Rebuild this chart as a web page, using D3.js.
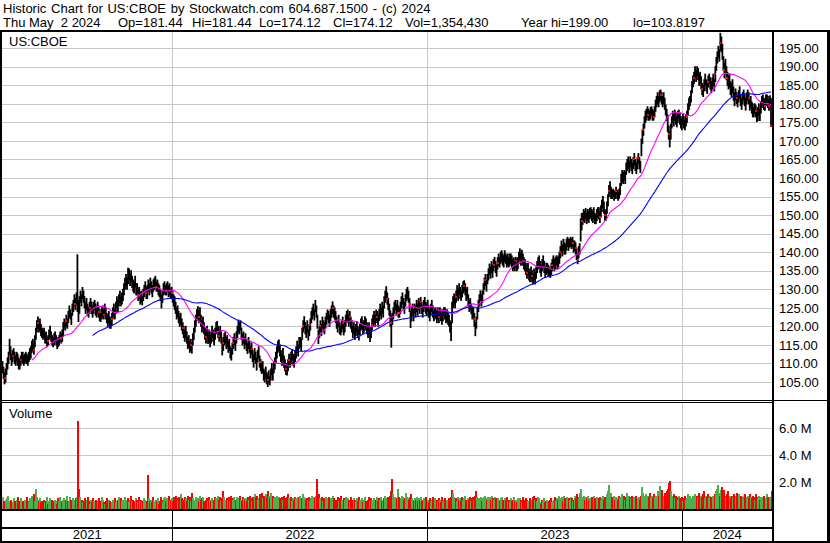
<!DOCTYPE html>
<html><head><meta charset="utf-8">
<script src="https://cdn.jsdelivr.net/npm/d3@7"></script>
<style>body{margin:0;background:#fff}svg{display:block}text{font-family:"Liberation Sans",Arial,sans-serif;fill:#000}</style>
</head><body><svg id="c" width="830" height="543"></svg>
<script>
// ---- data (daily bars, May 2021 .. May 2 2024) ----
const closes = [
109,107.5,106,107,108.5,110,111,114.5,112.5,111,
112,113,111.5,110.5,112,111,110,109.8,111,112,
111.5,110.5,111,112,111,110.5,111.5,112.5,113,114.5,
115,113.5,116,118,120,121,119.5,120.5,119,118,
117.5,118,116.5,117,115.5,116,117.5,118.5,117,116,
115.5,116.5,117,116,115,115.5,116,117,116.5,117.5,
119.5,121,120,121.5,120.5,122.5,124,123,122,124.5,
125.5,127,126,127.5,127,124,126.5,128,127,129,
128,126.5,125,126,124.5,123.5,125,126,125,124,
125,126,124.5,123.5,125,124,123,122,123.5,124,
123,124.5,123.5,122,121.5,122.5,121,120.5,122,123.5,
124.5,123,125,126.5,125.5,127,128,126.5,127.5,128.5,
130,131.5,132.5,131,133,134.5,132.5,133.5,132,131,
130.5,132,129.5,130,128.5,129,127.5,128,126.5,128.5,
129.5,130.5,129,128.5,131,130,131.5,130.5,129.5,131,
131.5,132,130.5,131,130,129.5,128.5,126.5,128,130,
130.5,129.5,130,131,129.5,130,128.5,129,128,127,
126,125,123.5,124,122.5,121.5,122,120.5,119.5,118.5,
117.5,118.5,117,115.5,116,114.5,115,114,116.5,118,
120,121.5,123,124,122.5,123.5,121.5,120,121,119.5,
118,117,118.5,116.5,117.5,116,117,118.5,117.5,116.5,
118,119.5,120,118.5,117.5,118.5,117,114,115.5,116.5,
117,115.5,116,114.5,115,113,112.5,114,115.5,116.5,
115,117,118.5,120,119.5,120.5,118,116.5,117,115.5,
116.5,115,114,115.5,114.5,113,114,112,111,112.5,
111.5,110,112,113,110.5,109.5,108.5,109,107,106.5,
107.5,106,105.5,106.5,105,107,108.5,107,109,110,
111.5,113,114.5,115,113.5,112,111,112.5,110.5,109.5,
108.5,108,109.5,111,110,111.5,112.5,111,110.5,112,
113,114.5,113.5,115.5,116,115,118,120,121,119.5,
118.5,120,117.5,119,120.5,122.5,123.5,124.5,123,125.5,
124,121.5,117,118.5,120,119,121,120,119.5,121,
122,123.5,122.5,121.5,123,124,125,124,123.5,122.5,
121,120,121.5,119.5,118.5,120,121,119,120,121.5,
122.5,123,121.5,122.5,121,120,118.5,119.5,118,119,
120,118.5,117.5,119,120.5,121,119.5,120,121.5,120.5,
119.5,118.5,119.5,117.5,118.5,120.5,121.5,122.5,121.5,123,
122.5,121.5,123,124.5,123.5,125,124,126.5,128,129,
127.5,126,124.5,122.5,121,122,123.5,125,126,124.5,
125.5,124,123.5,125,126.5,127.5,126,125,127,128.5,
129,128,126,122,123.5,124.5,123,125,124,125.5,
124.5,126,125,126.5,125,124,125.5,126.5,125,124.5,
125.5,124,123,124.5,125.5,124,122.5,123.5,124,122.5,
123.5,122.5,124,123,122,123,124.5,123.5,122.5,123,
122,121.5,120,118.5,125,126.5,127.5,126,128,129.5,
128.5,130,129,128,129.5,130.5,131,130,128.5,129,
127,125.5,126,124.5,123.5,124,122,119.5,121,123.5,
125.5,127,128.5,127,128,130,131.5,132.5,131,133,
134,135.5,134.5,136,135,136.5,137.5,136,135,137,
138,137,138.5,139,138,137.5,139,138.5,137.5,138,
137,138,138.5,137.5,136.5,137,136,137.5,136.5,137,
138.5,139.5,138,139,138,137,136.5,135.5,134.5,135.5,
134,133,134.5,133.5,132.5,134,133,134.5,136,137,
137.5,136,135,136.5,137.5,136,134.5,135.5,136,135,
134.5,134,135.5,136.5,137.5,136.5,137,138,137,137.5,
138.5,140,141.5,140.5,142,141,140.5,142,143,142,
142.5,143,142,142.5,141.5,142,141,139.5,138,140,
141,147.5,148.5,149,150,149.5,150.5,149,150,149.5,
150.5,151,150,149.5,150.5,149,148.5,150,151,150.5,
149.5,151,152.5,153.5,152,150,149.5,152,154,156.5,
157.5,156,155.5,156,155,155.5,156.5,155.5,155,156,
157,159.5,160.5,160,161,160,162.5,163.5,164,163,
164.5,163.5,162.5,164,165,163.5,162.5,164,165.5,164,
163,169,171.5,173,175,176.5,177,178,177,176.5,
177.5,178.5,177,176.5,178,179.5,180.5,181.5,180.5,182,
182.5,181.5,180.5,181.5,180,178.5,177,175.5,172,170.5,
173,175,176.5,175.5,177,176,175,176.5,177.5,176,
175,174.5,176,175,174,175.5,176.5,178.5,180,181,
182,184.5,186,187,188.5,187.5,189,188,186.5,187,
185.5,184,183.5,185,186.5,185,184,186,187,185.5,
184.5,185.5,186.5,185,188,191,192.5,194,193,196.5,
196,193.5,191,189,190.5,188.5,187,185.5,186,184.5,
183.5,185,182.5,181,182.5,181.5,180.5,182,183,181,
180,181.5,182.5,181,180,181.5,182.5,181.5,179.5,180.5,
179,178,177.5,179,178,176.5,177.5,178.5,177,179,
180.5,181.5,180,179.5,181,182,180.5,179.5,181,174.12
];
const highs = [
110.5,109,107.5,108.5,110,111.5,113,116.5,114.5,112.5,
113.5,114,113,112,113,112.5,111.5,111,112,113,
113,112,112.5,113,112.5,112,113,114,114.5,116,
116.5,115.5,117.5,119.5,121.5,122.5,121,122,120.5,119.5,
119,119.5,118,118.5,117,117.5,119,120,118.5,117.5,
117,118,118.5,117.5,116.5,117,117.5,118.5,118,119,
121,122,121.5,123,122,124,125.5,124.5,123.5,126,
127,128.5,127.5,129,139.3,127,128,129.5,128.5,130.5,
129.5,128,126.5,127.5,126,125,126.5,127.5,126.5,125.5,
126.5,127,126,125,126.5,125.5,124.5,123.5,125,125.5,
124.5,126,125,123.5,123,124,122.5,122,123.5,125,
126,124.5,126.5,128,127,128.5,129.5,128,129,130,
131.5,133,134,133,135.7,135.5,134,135,133.5,132.5,
132,133.5,131.5,131.5,130,130.5,129,129.5,128,130,
131,132,130.5,131,132.5,131.5,133,132,131,132.5,
133,133.5,132,132.5,131.5,131,130,128.5,129.5,131.5,
132,131,131.5,132,131,131.5,130,130.5,129.5,128.5,
128,126.5,125,125.5,124,123,123.5,122,121,120,
119,120,118.5,117,117.5,116,116.5,115.5,118,119.5,
121.5,123,124.5,125.3,124,125,123,121.5,122.5,121,
119.5,118.5,120,118,119,117.5,118.5,120,119,118,
119.5,121,121.3,120,119,120,118.5,116,117,118,
118.5,117,117.5,116,116.5,114.5,114,115.5,117,118,
116.5,118.5,120,121.7,121,121.5,119.5,118,118.5,117,
118,116.5,115.5,117,116,114.5,115.5,113.5,112.5,114,
113,111.5,113.5,114.5,112,111,110,110.5,108.5,108,
109,107.5,107,108,106.5,108.5,110,108.5,110.5,111.5,
113,114.5,116,116.3,115,113.5,112.5,114,112,111,
110,109.5,111,112.5,111.5,113,113.6,112.5,112,113.5,
114.5,116,115,117,117,116.5,119.5,121.5,122.6,121,
120,121.5,119,120.5,122,124,125,126,124.5,127,
125.5,123,119,120,121.5,120.5,122.5,121.5,121,122.5,
123.5,124.4,124,123,124.5,125.5,126.6,125.5,125,124,
122.5,121.5,123,121,120,121.5,122.5,120.5,121.5,123,
124,124.4,123,124,122.5,121.5,120,121,119.5,120.5,
121.3,120,119,120.5,122,122.6,121,121.5,122.6,122,
121,120,121,119,120,122,123,124,123,124.4,
124,123,124.5,126,125,126.5,125.5,128,129.5,130.7,
129,127.5,126,124.2,123,123.5,125,126.5,127,126,
127,125.5,125,126.5,128,129,127.5,126.5,128.5,130,
130.5,129.5,127.5,124,125,126,124.5,126,125.5,127,
126,127.5,126.5,127.8,126.5,125.5,127,127.8,126.5,126,
127,125.5,124.5,126,127,125.5,124,125,125,124,
125,124,125,124.5,123.5,124.5,125,125,124,124.5,
123.5,123,121.5,121,126.5,128,128.7,127.5,129.5,131,
130,131.5,130.5,129.5,131,132,132.3,131.5,130,130.5,
128.5,127,127.5,126,125,125,123.5,121,122.5,125,
127,128.5,129.6,128.5,129.5,131.5,133,134,132.5,134,
135.5,136.8,136,137.5,136.5,138,138.6,137.5,136.5,138.5,
139.5,138.5,140,140.4,139.5,139,140.4,139.5,139,139.5,
138.5,139.5,139.5,139,138,138.5,137.5,138.6,138,138.5,
140,140.9,139.5,140.5,139.5,138.5,138,137,136,137,
135.5,134.5,136,135,134,135.5,134.5,136,137.5,138.5,
139,137.5,136.5,138,139,137.5,136,137,137,136.5,
136,135.5,137,138,139,138,138.5,139,138.5,139,
140,141.5,143,142,143.5,142.5,142,143.5,144,143.5,
143.5,144,143.5,144,143,143,142.5,141,139.5,141.5,
142.3,149,150.4,150.5,151.5,151,151.8,150.5,151.5,151,
151.8,152,151.5,151,152,150.5,150,151.5,152,152,
151,152.5,154,155,153.5,151.5,151,153.5,155.5,158,
159,157.5,156.7,157,156.5,156.5,157.5,156.7,156,157,
158.5,161,162,161.5,162,161.5,164,165,165.7,164.5,
165.7,165,164,165.5,166.6,165,164,165.5,166.6,165.5,
164.5,170.5,173,174.5,176.5,178,178.5,179.2,178.5,178,
179,179.2,178.5,178,179.2,181,182,183,182,183.5,
183.7,183,182,183,181.5,179.7,178.5,177,174,172.5,
174.5,176.5,178,177,178.3,177.5,176.5,178,178.3,177.5,
176.5,176,177.4,176.5,175.5,177,178,180,181.5,182,
183.5,186,187.5,188.5,190,189,190,189.5,188,188.5,
187.3,185.5,185,186.5,188,186.5,185.5,187.5,188,187,
186,187,188,186.5,190,192.5,194,195.5,194.5,199,
198,196,192.7,191,192,190,188.5,187.5,188,186,
185.5,186.5,184.5,183,184,183,182,183.5,184.6,182.5,
181.5,183,183.7,182.5,181.5,183,183.7,183,181,182,
180.5,180,179,180,179.5,178,179,180,178.5,180.5,
182,182.4,181.5,181,182.4,182.4,182,181,182.2,181.44
];
const lows = [
107.5,106,104.5,105,107,108.5,110,112.5,111,109.5,
110.5,111.5,110,109.5,110.5,109.5,108.5,108.5,109.5,110.5,
110,109.5,110,110.5,110,109.5,110.5,111,111.5,113,
113.5,112.5,114.5,116.5,118.5,119.5,118.5,119,117.5,117,
116.5,117,115.5,115.5,114.5,115,116.5,117,116,115,
114.5,115,116,115,114,114.5,115,116,115.5,116,
117.5,119.5,119,120,119.5,121,122.5,122,120.5,123,
124,125.5,124.5,126,124,121.3,123.5,126.5,125.5,127.5,
126.5,125,123.5,124.5,123,122.5,123.5,124.5,123.5,122.5,
123.5,124.5,123,122.5,123.5,122.5,121.5,121.3,122,122.5,
122,123,122,121,120,121,119.5,119.5,120.5,122,
123,122,123.5,125,124,125.5,126.5,125.5,126,127,
128.5,130,131,130,131.5,132.5,131,132,130.5,129.5,
129,130.5,128.5,128.5,127,127.5,126,126.5,125.8,127,
128,129,127.5,127.5,129.5,128.5,130,129,128,129.5,
130,130.5,129.5,129.5,128.5,128,127,125,126.5,128.5,
129,128.5,128.5,129.5,128,128.5,127.5,127.5,126.5,125.5,
124.5,123.5,122,122.5,121,120,120.5,119,118,117,
116,117,115.5,114,114.5,113,113.5,112.8,115,116.5,
118.5,120,121.5,122.5,121,122,120,118.5,119.5,118,
116.5,115.5,117,115.4,116,114.5,115.5,117,116,115,
116.5,118,118.5,117,116,117,115.5,112.3,113.5,115,
115.5,114,114.5,113,113.5,111.5,110.9,112.5,114,115,
113.5,115.5,117,118.5,118,119,116.5,115,115.5,114,
115,113.5,112.7,114,113,111.5,112.5,110.5,109,111,
110,108.2,110.5,111.5,109,108,107.3,107.5,105.5,105,
106,104.5,103.8,105,104.2,105.5,107,105.5,107.5,108.5,
110,111.5,113,113.5,112,110.5,109.5,111,109,108,
107,106.9,108,109.5,109,110,111,109.5,109,110.5,
111.5,113,112,114,114.5,113.5,116.5,118.5,119.5,118,
117,118.5,116.3,117.5,119,121,122,123,121.7,124,
122.5,119.5,115.4,117,118.5,117.5,119.5,118.5,118,119.5,
120.5,122,121,120,121.5,122.5,123.5,122.5,122,121,
119.5,118.5,120,118,117.7,118.5,119.5,117.7,118.5,120,
121,121.5,120,121,119.5,118.5,117,118,116.5,117.5,
118.5,117,116.3,117.5,119,119.5,118,118.5,120,119,
118,117,118,115.9,117,119,120,121,120,121.5,
121,120,121.6,123,122,123.5,122.5,125,126.5,127.5,
126,124.5,123,120,114.4,120.5,122,123.5,124.5,123,
124,122.5,122.5,123.5,125,126,124.5,123.5,125.5,127,
127.5,126.5,124,119.7,121.5,123,121.5,123.5,122.5,124,
123,124.5,123.5,125,123.5,122.5,124,125,123.5,123,
124,122.5,121.5,123,124,122.5,121.5,122,122.5,121,
122,121,122.5,121.5,120.6,121.5,123,122,121,121.5,
120.6,120,118.5,116.2,121,125,126,125,126.5,128,
127,128.5,127.5,127,128,129,129.5,128.5,127,127.5,
125.5,124,124.5,123.4,122,122.5,120,117.5,119.5,122,
124,125.5,127,125.5,126.5,128.7,130,131,129.5,131.5,
132.5,134,133,134.5,133.2,135,136,134.5,133.5,135.5,
136.5,136,137,137.5,136.5,136,137.5,137,136,136.5,
136,136.5,137,136,135,135.5,135,136,135,135.5,
137,138,136.5,137.5,136.5,135.5,135,134,133,134,
132.5,132,133,132,131.4,132.5,131.4,133,134.5,135.5,
136,134.5,133.5,135,136,134.5,133.2,134,134.5,133.5,
133.5,133.2,134,135,136,135,135.5,136.5,135.5,136,
137,138.5,140,139,140.5,139.5,139.5,140.5,141.5,140.5,
141.4,141.5,141,141.5,140,140.5,139.5,138,136.9,138.5,
139.5,143,146,147.5,148.5,148,149,147.7,148.5,148,
149,149.5,148.5,148,149,147.7,147.7,148.5,149.5,149,
148,149.5,151,152,150.5,148.6,148.6,150.5,152.5,155,
156,154.5,154.5,155,154,154.5,155.5,154.5,154,154.5,
155.5,158,159,158.5,159.5,158.5,161,162,162.5,161.5,
163,162,161.2,162.5,163.5,162,161.2,162.5,164,162.5,
161.5,166,169.3,171.5,173.5,175,175.6,176.5,175.6,175.6,
176,177,175.6,175.6,176.5,178,179.2,180,179.2,180.5,
181,180,179.2,180,178.5,177,175.5,172.5,170.5,168.4,
170.5,173.5,175,174,175.5,174.5,173.8,175,176,174.5,
173.5,173,174.5,173.5,173,174,175,177,178.5,179.5,
180.5,183,184.6,185.5,187,186,187.5,186.5,185,185.5,
184,182.5,182,183.5,185,183.5,182.8,184.5,185.5,184,
183,184,185,183.5,186,189,191,192.5,191.5,194.5,
194,192,189,187,188.5,186.5,185,184,184.5,182.5,
182,183,181,179.5,181,180,179.2,180.5,181.5,179.5,
178.5,180,181,179.5,178.3,180,181,180,178.3,179,
177.5,176.5,176.5,177.5,176.5,175.2,175.5,177,175.5,177.5,
179,180,178.5,178.3,179.5,180.5,179,178.3,179.5,174.12
];
// daily volume, millions of shares
const volumes = [
.9,.6,.5,.7,.8,1.0,.6,.5,.7,.4,
.5,.8,.6,.4,.7,.9,.5,.6,.8,.5,
.6,.4,.7,.5,.9,.6,.5,.8,.7,1.0,
.8,1.1,.6,1.5,.9,.7,.6,.8,.5,.6,
.7,.5,.6,.9,.4,.6,.8,.5,.7,.6,
.5,.7,.6,.4,.8,.6,.9,.5,.6,.7,
.8,.6,.7,1.0,.6,.5,.9,.7,.6,.8,
.7,.6,.8,.9,6.5,1.5,.9,.6,.7,.5,
.6,.8,.5,.7,.9,.6,.4,.7,.5,.8,
.6,.5,.7,.4,.6,.8,.5,.6,.9,.7,
.5,.4,.6,.8,.5,.7,.6,.4,.5,.7,
.6,.8,.5,.6,.7,.9,.5,.8,.6,.7,
.9,.7,.6,.8,.5,.7,1.0,.6,.7,.5,
.6,.8,.7,.5,.9,.6,.7,.5,.6,.8,
.7,.5,.6,2.5,.8,.6,.7,.5,.9,.6,
.5,.7,.6,.8,.4,.6,.9,.7,.5,.8,
.9,.6,.8,.7,1.0,.6,.7,.8,.6,.9,
.7,1.0,.8,.6,.9,.7,1.1,.8,.6,.7,
.9,.8,.6,1.0,.7,.9,.6,1.2,.8,.7,
.6,.9,.7,.8,.6,1.0,.7,.8,.9,.6,
.7,.8,.6,.9,.7,.6,.8,.5,.7,.9,
.8,.6,1.0,.7,.9,.6,.8,1.3,.9,.7,
.6,.8,.7,.9,.6,1.0,.8,.7,.9,.6,
.7,.9,.6,.8,1.0,.7,.6,.9,.8,.7,
.8,.6,.9,.7,1.0,.8,.6,.9,.7,1.1,
.9,1.0,.7,.8,1.1,.9,1.2,.8,1.0,.9,
1.1,.9,1.3,1.0,.8,1.2,.9,1.0,.8,.9,
.8,1.0,.7,.9,.8,.6,.9,.7,1.0,.8,
.9,1.1,.8,.7,.9,.6,.8,.7,.9,.8,
.7,.9,.8,1.0,.7,.8,1.1,.9,.8,.7,
.8,.7,.9,.6,.8,1.0,.7,.9,.8,1.0,
2.2,1.0,1.1,.8,.7,.9,.6,.8,.7,.9,
.8,.7,.9,.6,.8,.7,1.0,.8,.6,.7,
.7,.9,.6,.8,1.0,.7,.6,.8,.7,.9,
.6,.8,.7,.5,.9,.7,.6,.8,.7,.6,
.8,.6,.9,.7,.6,.8,.5,.7,.9,.6,
.7,.9,.6,.8,.7,.5,.8,.6,.7,.9,
.6,.8,.7,.9,.6,.7,.8,1.0,.7,.8,
.9,.7,1.0,1.3,2.2,1.1,.8,.9,.7,.8,
1.5,.9,.7,.8,1.0,.9,.7,.8,1.2,.9,
.8,.7,.9,1.1,.8,.7,.6,.8,.7,.9,
.6,.8,.7,.9,.6,.7,.8,.6,.9,.7,
.7,.5,.8,.6,.7,.9,.6,.8,.5,.7,
.6,.8,.7,.5,.9,.6,.7,.8,.6,.7,
.8,.7,.9,1.4,1.2,.9,.7,.8,.6,.9,
.7,.8,.6,.9,.7,.8,1.0,.7,.6,.8,
.7,.9,.6,.8,.9,.7,1.0,1.3,.9,.8,
.7,.8,.9,.6,.8,.9,1.0,.8,.7,.9,
.8,.9,.7,1.0,.8,.7,.9,.8,.6,.8,
.7,.6,.8,.9,.7,.6,.8,.7,.9,.6,
.7,.5,.8,.6,.7,.9,.6,.7,.5,.8,
.6,.8,.7,.5,.9,.7,.6,.8,.7,.6,
.8,.6,.7,.9,1.0,.7,.8,.6,.9,.8,
.5,.4,.7,.6,.8,.5,.6,.7,.4,.6,
.7,.8,.5,.6,.7,.9,.6,.8,.7,1.0,
.8,.7,.9,.6,1.0,.8,.7,.9,.6,.8,
.7,.9,.8,.6,.7,1.0,.8,1.1,.9,.8,
1.2,1.5,.9,.8,1.0,.7,.9,.8,1.0,.7,
.8,.6,.9,.7,1.0,.8,.6,.9,.7,.8,
.9,.7,.8,1.0,.7,.9,.8,1.1,1.3,1.8,
1.2,.9,.8,1.0,.7,.9,.8,.7,1.0,.8,
.9,1.1,.8,1.0,.7,.9,1.2,.8,1.0,.9,
.8,1.0,.7,.9,.8,1.0,.7,.8,.9,.7,
1.0,1.6,1.2,1.0,.9,1.1,.8,1.0,.9,1.2,
.9,1.0,.8,1.1,.9,1.0,.8,1.3,1.0,1.7,
1.1,1.4,.9,1.0,1.2,1.1,1.3,1.5,1.9,2.05,
1.3,1.0,.9,1.1,.8,1.0,.9,.7,1.0,.8,
.7,.9,.6,.8,1.0,.7,.8,1.1,.9,1.0,
.8,1.0,.9,1.1,.8,1.0,.9,1.2,.8,1.0,
.9,1.1,1.3,.8,1.0,.9,1.1,.8,1.0,.9,
.8,1.0,.9,1.1,1.3,1.5,1.8,1.2,1.0,1.4,
1.6,1.2,1.4,1.0,.9,1.1,1.3,.9,1.0,.8,
1.0,.9,1.1,.8,1.0,1.2,.9,1.1,.8,1.0,
.9,.8,1.0,1.1,.8,.9,1.0,.8,1.1,.9,
.8,1.0,.9,.7,1.1,.9,.8,1.0,.7,.9,
.8,.9,1.0,.7,.8,1.1,.9,.8,.9,1.35
];
// days carrying a red marker on the price bar
const markerDays = [2,10,18,31,35,45,58,63,72,86,95,100,108,134,142,152,161,167,178,186,194,
  201,214,218,228,237,246,254,262,269,280,283,297,304,314,326,336,343,352,365,370,380,
  384,392,402,413,431,448,456,466,477,485,489,507,518,523,543,551,563,568,
  566,572,590,595,599,606,624,628,633,638,643,650,658,668,676,683,691,697,704,709,713,716,725,737,744,753,757,759];
const years = ["2021","2022","2023","2024"];
const yearStartDay = [0,167,419,671];
const priceTicks = [105,110,115,120,125,130,135,140,145,150,155,160,165,170,175,180,185,190,195];
const volTicks = [2,4,6];
const volTickLabels = ["2.0 M","4.0 M","6.0 M"];
const maPeriods = [30,90];
const maColors = ["#ff00ff","#0000ff"];
const headerLine1 = "Historic Chart for US:CBOE by Stockwatch.com 604.687.1500 - (c) 2024";
const headerLine2 = ["Thu May  2 2024","Op=181.44","Hi=181.44","Lo=174.12","Cl=174.12","Vol=1,354,430","Year hi=199.00","lo=103.8197"];
const headerLine2X = [3,118,192,259,333,405,521,633];

// ---- drawing ----
const n = Math.min(closes.length, highs.length, lows.length, volumes.length);
const svg = d3.select("#c");
const plotL = 2, plotR = 772;
const pTop = 32, pBot = 400, vTop = 403, vBot = 509;

const x = d3.scaleLinear().domain([0, n - 1]).range([2.5, 771]);
const y = d3.scaleLinear().domain([105, 195]).range([382, 48.2]);
const yv = d3.scaleLinear().domain([0, 6]).range([509, 428]);

svg.append("rect").attr("width", 830).attr("height", 543).attr("fill", "#fff");

const defs = svg.append("defs");
defs.append("clipPath").attr("id", "cp").append("rect")
  .attr("x", plotL).attr("y", pTop).attr("width", plotR - plotL).attr("height", pBot - pTop);
defs.append("clipPath").attr("id", "cv").append("rect")
  .attr("x", plotL).attr("y", vTop).attr("width", plotR - plotL).attr("height", vBot - vTop);

const grid = svg.append("g").attr("shape-rendering", "crispEdges").attr("stroke", "#c8c8c8").attr("stroke-width", 1);
grid.selectAll("line.hp").data(priceTicks).join("line").attr("class", "hp")
  .attr("x1", plotL).attr("x2", plotR)
  .attr("y1", d => Math.round(y(d)) + 0.5).attr("y2", d => Math.round(y(d)) + 0.5);
grid.selectAll("line.hv").data(volTicks).join("line").attr("class", "hv")
  .attr("x1", plotL).attr("x2", plotR)
  .attr("y1", d => Math.round(yv(d)) + 0.5).attr("y2", d => Math.round(yv(d)) + 0.5);
const yearX = yearStartDay.slice(1).map(d => Math.round(x(d)) + 0.5);
grid.selectAll("line.vp").data(yearX).join("line").attr("class", "vp")
  .attr("x1", d => d).attr("x2", d => d).attr("y1", pTop).attr("y2", pBot);
grid.selectAll("line.vv").data(yearX).join("line").attr("class", "vv")
  .attr("x1", d => d).attr("x2", d => d).attr("y1", vTop).attr("y2", vBot);

// price bars (daily high-low)
const idx = d3.range(n);
const pricePlot = svg.append("g").attr("clip-path", "url(#cp)");
pricePlot.selectAll("line").data(idx).join("line")
  .attr("x1", i => x(i)).attr("x2", i => x(i))
  .attr("y1", i => y(lows[i]) + 0.5).attr("y2", i => y(highs[i]) - 0.5)
  .attr("stroke", "#000").attr("stroke-width", 1.8);
pricePlot.selectAll("rect.mk").data(markerDays.filter(d => d < n)).join("rect").attr("class", "mk")
  .attr("x", d => Math.round(x(d)) - 1).attr("y", d => Math.round(y(closes[d])) - 1)
  .attr("width", 2).attr("height", 2).attr("fill", "#ff0000");

// moving averages of the closes
maPeriods.forEach((p, k) => {
  const pts = [];
  for (let i = p - 1; i < n; i++) pts.push([i, d3.mean(closes.slice(i - p + 1, i + 1))]);
  svg.append("path").attr("clip-path", "url(#cp)")
    .attr("d", d3.line().x(d => x(d[0])).y(d => y(d[1]))(pts))
    .attr("fill", "none").attr("stroke", maColors[k]).attr("stroke-width", 1.1);
});

// volume bars
svg.append("g").attr("clip-path", "url(#cv)").attr("shape-rendering", "crispEdges")
  .selectAll("rect").data(idx).join("rect")
  .attr("x", i => x(i) - 0.5).attr("width", 2)
  .attr("y", i => yv(volumes[i])).attr("height", i => yv(0) - yv(volumes[i]))
  .attr("fill", i => i === 0 || closes[i] === closes[i - 1] ? "#a0a0a0" : (closes[i] > closes[i - 1] ? "#4caf50" : "#ff0000"));

// frame lines
const frame = svg.append("g").attr("fill", "#000").attr("shape-rendering", "crispEdges");
frame.append("rect").attr("x", 0).attr("y", 30).attr("width", 830).attr("height", 2);
frame.append("rect").attr("x", 0).attr("y", 30).attr("width", 2).attr("height", 513);
frame.append("rect").attr("x", 827).attr("y", 30).attr("width", 3).attr("height", 513);
frame.append("rect").attr("x", 772).attr("y", 30).attr("width", 2).attr("height", 513);
frame.append("rect").attr("x", 0).attr("y", 400).attr("width", 830).attr("height", 1);
frame.append("rect").attr("x", 0).attr("y", 402).attr("width", 773).attr("height", 1);
frame.append("rect").attr("x", 0).attr("y", 509).attr("width", 773).attr("height", 2);
frame.append("rect").attr("x", 0).attr("y", 527).attr("width", 773).attr("height", 2);
frame.append("rect").attr("x", 0).attr("y", 541).attr("width", 830).attr("height", 2);
frame.selectAll("rect.yb").data(yearX).join("rect").attr("class", "yb")
  .attr("x", d => d - 0.5).attr("y", 511).attr("width", 1).attr("height", 30);

// header text
svg.append("text").attr("x", 3).attr("y", 13).attr("font-size", 13)
  .attr("word-spacing", "1.1px").text(headerLine1);
svg.selectAll("text.h2").data(headerLine2).join("text").attr("class", "h2")
  .attr("x", (d, i) => headerLine2X[i]).attr("y", 27).attr("font-size", 13)
  .attr("xml:space", "preserve").style("white-space", "pre").text(d => d);

svg.append("text").attr("x", 9).attr("y", 46).attr("font-size", 13).text("US:CBOE");
svg.append("text").attr("x", 9).attr("y", 418).attr("font-size", 13).text("Volume");

// right axis labels
svg.selectAll("text.pt").data(priceTicks).join("text").attr("class", "pt")
  .attr("x", 779).attr("y", d => y(d)).attr("dy", "0.36em").attr("font-size", 13)
  .text(d => d.toFixed(2));
svg.selectAll("text.vt").data(volTicks).join("text").attr("class", "vt")
  .attr("x", 779).attr("y", d => yv(d)).attr("dy", "0.36em").attr("font-size", 13)
  .text((d, i) => volTickLabels[i]);

// year labels
const yb = [2].concat(yearX, [772]);
svg.selectAll("text.yr").data(years).join("text").attr("class", "yr")
  .attr("x", (d, i) => (yb[i] + yb[i + 1]) / 2).attr("y", 539)
  .attr("text-anchor", "middle").attr("font-size", 13).text(d => d);
</script></body></html>
